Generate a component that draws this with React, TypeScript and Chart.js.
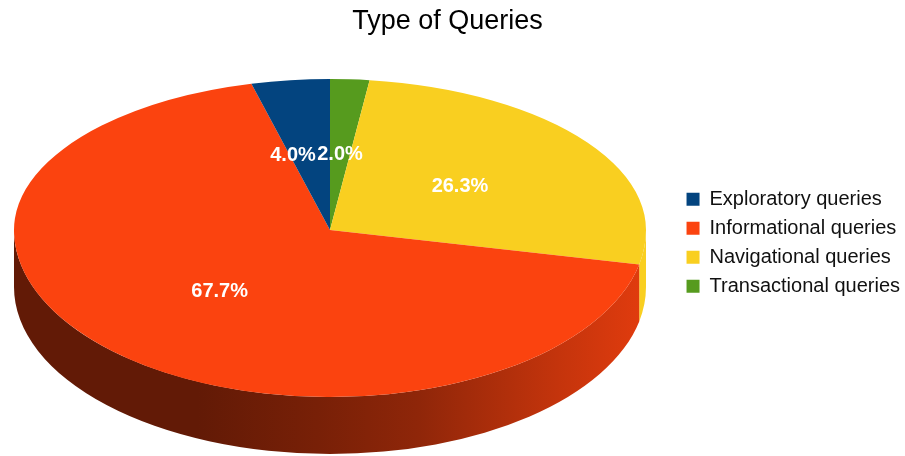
import React, { useEffect, useRef } from "react";
import { Chart, registerables } from "chart.js";

Chart.register(...registerables);

const categories = ["Exploratory queries", "Informational queries", "Navigational queries", "Transactional queries"];
const shares = [4.0, 67.7, 26.3, 2.0];
const colours = ["#03447f", "#fb430f", "#f9cf20", "#569b1e"];
const title = "Type of Queries";

const FONT = "'Liberation Sans', Arial, sans-serif";
const CX = 330;
const CY = 230;
const RX = 316;
const RY_BACK = 151;
const RY_FRONT = 167;
const DEPTH = 57;
const shadeStops: [number, number][] = [
  [0, 0.39], [0.29, 0.39], [0.48, 0.48], [0.64, 0.57], [0.86, 0.78], [1, 0.9],
];

const shade = (hex: string, k: number) => {
  const n = parseInt(hex.slice(1), 16);
  const c = [(n >> 16) & 255, (n >> 8) & 255, n & 255].map((v) => Math.round(v * k));
  return `rgb(${c[0]},${c[1]},${c[2]})`;
};

const pie3d = {
  id: "pie3d",
  beforeDatasetsDraw(chart: any) {
    const ctx = chart.ctx;
    const arcs = chart.getDatasetMeta(0).data;
    const bg = chart.data.datasets[0].backgroundColor as string[];
    // side wall
    arcs.forEach((a: any, i: number) => {
      for (const k of [0, Math.PI * 2, -Math.PI * 2]) {
        const s = Math.max(a.startAngle + k, 0);
        const e = Math.min(a.endAngle + k, Math.PI);
        if (e <= s) continue;
        const g = ctx.createLinearGradient(CX - RX, 0, CX + RX, 0);
        shadeStops.forEach(([p, m]) => g.addColorStop(p, shade(bg[i], m)));
        ctx.fillStyle = bg[i] === colours[1] ? g : bg[i];
        ctx.beginPath();
        ctx.ellipse(CX, CY, RX, RY_FRONT, 0, s, e);
        ctx.ellipse(CX, CY + DEPTH, RX, RY_FRONT, 0, e, s, true);
        ctx.closePath();
        ctx.fill();
      }
    });
    // top face, back half and front half use different vertical scales (perspective)
    const passes: [number, number, number][] = [
      [0, CY, RY_BACK],
      [CY, 456 - CY, RY_FRONT],
    ];
    for (const [top, h, ry] of passes) {
      ctx.save();
      ctx.beginPath();
      ctx.rect(0, top, 905, h);
      ctx.clip();
      arcs.forEach((a: any) => {
        ctx.save();
        ctx.translate(CX, CY);
        ctx.scale(RX / a.outerRadius, ry / a.outerRadius);
        ctx.translate(-a.x, -a.y);
        a.draw(ctx);
        ctx.restore();
      });
      ctx.restore();
    }
    // percentage labels
    const values = chart.data.datasets[0].data as number[];
    ctx.save();
    ctx.font = `bold 20px ${FONT}`;
    ctx.fillStyle = "#ffffff";
    ctx.textAlign = "center";
    ctx.textBaseline = "middle";
    arcs.forEach((a: any, i: number) => {
      const mid = (a.startAngle + a.endAngle) / 2;
      const sin = Math.sin(mid);
      const ry = sin > 0 ? RY_FRONT : RY_BACK;
      const nudge = values[i] === 4 ? -17 : 0;
      const x = CX + Math.cos(mid) * RX * 0.505 + nudge;
      const y = CY + sin * ry * 0.505 + 1;
      ctx.fillText(`${values[i].toFixed(1)}%`, x, y);
    });
    ctx.restore();
    return false;
  },
};

export default function App() {
  const ref = useRef<HTMLCanvasElement>(null);
  useEffect(() => {
    document.body.style.margin = "0";
    const chart = new Chart(ref.current!, {
      type: "pie",
      plugins: [pie3d],
      data: {
        labels: [...categories].reverse(),
        datasets: [
          {
            data: [...shares].reverse(),
            backgroundColor: [...colours].reverse(),
            borderWidth: 0,
          },
        ],
      },
      options: {
        responsive: false,
        animation: false,
        radius: 316,
        layout: { padding: { left: -15, right: -5, top: 5, bottom: 8 } },
        plugins: {
          tooltip: { enabled: false },
          title: {
            display: true,
            text: title,
            color: "#000000",
            font: { family: FONT, size: 27, weight: "normal" },
            padding: { top: 0, bottom: 0 },
          },
          legend: {
            position: "right",
            fullSize: false,
            reverse: true,
            labels: {
              boxWidth: 13,
              boxHeight: 13,
              padding: 9,
              color: "#111111",
              font: { family: FONT, size: 20 },
            },
          },
        },
      } as any,
    });
    return () => chart.destroy();
  }, []);
  return (
    <div style={{ position: "absolute", left: 0, top: 0, width: 905, height: 456, background: "#fff" }}>
      <canvas ref={ref} width={905} height={456} style={{ display: "block", filter: "blur(0.7px)" }} />
    </div>
  );
}
